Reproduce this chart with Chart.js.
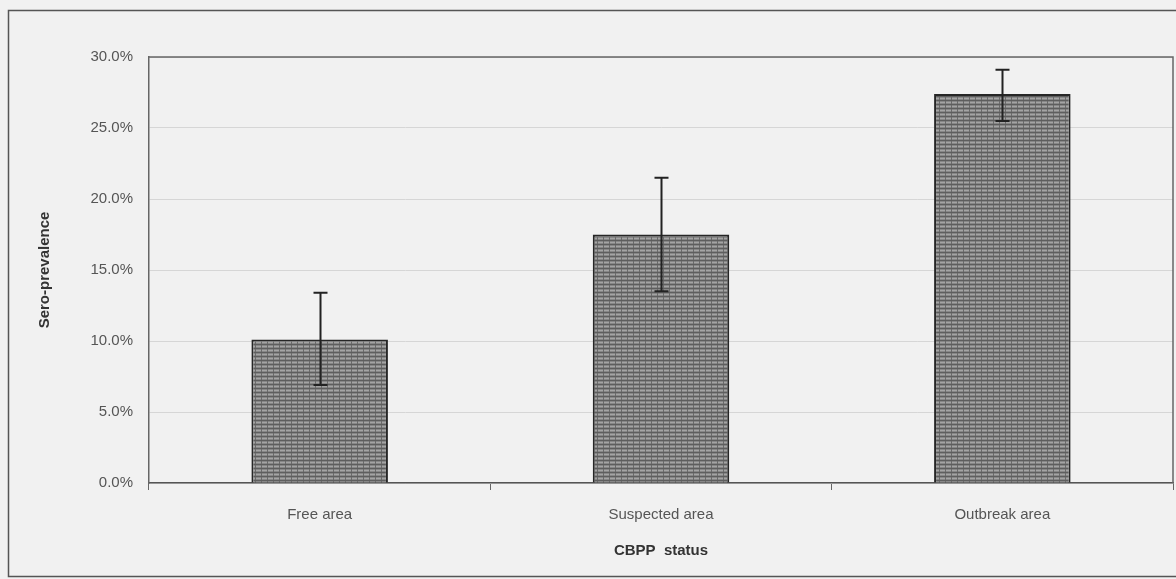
<!DOCTYPE html>
<html>
<head>
<meta charset="utf-8">
<script src="https://cdn.jsdelivr.net/npm/chart.js@4/dist/chart.umd.min.js"></script>
<style>
  html, body { margin: 0; padding: 0; background: #f1f1f1; }
  #wrap { width: 1176px; height: 579px; }
</style>
</head>
<body>
<div id="wrap"><canvas id="chart" width="1176" height="579"></canvas></div>
<script>
// --------------------- Chart data -----------------------------
const categories = ['Free area', 'Suspected area', 'Outbreak area'];
const prevalence = [10.1, 17.5, 27.4];   // bar heights, %
const ciLower = [6.9, 13.5, 25.5];       // error bar lower ends, %
const ciUpper = [13.4, 21.5, 29.1];      // error bar upper ends, %
const yTicks = [0, 5, 10, 15, 20, 25, 30];

const fontFamily = "'Liberation Sans', Arial, sans-serif";

// grey cross-hatched fill, like the scanned bars
function makePattern() {
  const c = document.createElement('canvas');
  c.width = 6;
  c.height = 4;
  const g = c.getContext('2d');
  g.fillStyle = '#878787';
  g.fillRect(0, 0, 6, 4);
  g.fillStyle = '#5e5e5e';
  g.fillRect(0, 0, 6, 1);
  g.fillStyle = '#a4a4a4';
  g.fillRect(0, 2, 6, 1);
  g.fillStyle = '#6a6a6a';
  g.fillRect(3, 1, 1, 3);
  return g.createPattern(c, 'repeat');
}

// ----------------------- Error bars + frames ----------------------
const errorBars = {
  id: 'errorBars',
  afterDatasetsDraw(chart) {
    const ctx = chart.ctx;
    const x = chart.scales.x;
    const y = chart.scales.y;
    ctx.save();
    ctx.strokeStyle = '#222';
    ctx.lineWidth = 2;
    for (let i = 0; i < categories.length; i++) {
      const px = Math.round(x.getPixelForValue(i)) + 0.5;
      const top = y.getPixelForValue(ciUpper[i]);
      const bot = y.getPixelForValue(ciLower[i]);
      ctx.beginPath();
      ctx.moveTo(px, top);
      ctx.lineTo(px, bot);
      ctx.moveTo(px - 7, top);
      ctx.lineTo(px + 7, top);
      ctx.moveTo(px - 7, bot);
      ctx.lineTo(px + 7, bot);
      ctx.stroke();
    }
    ctx.restore();
  },
  afterDraw(chart) {
    const ctx = chart.ctx;
    const a = chart.chartArea;
    ctx.save();
    // plot box top / right
    ctx.strokeStyle = '#666';
    ctx.lineWidth = 1.5;
    ctx.beginPath();
    ctx.moveTo(a.left, a.top);
    ctx.lineTo(a.right, a.top);
    ctx.lineTo(a.right, a.bottom);
    ctx.stroke();
    // outer frame
    ctx.strokeStyle = '#555';
    ctx.lineWidth = 1.5;
    ctx.strokeRect(8.5, 10.5, 1180, 566);
    ctx.restore();
  }
};

const ctx = document.getElementById('chart');
const myChart = new Chart(ctx, {
  type: 'bar',
  data: {
    labels: categories,
    datasets: [{
      label: 'Sero-prevalence',
      data: prevalence,
      backgroundColor: makePattern(),
      borderColor: '#262626',
      borderWidth: 2,
      categoryPercentage: 1,
      barPercentage: 0.4
    }]
  },
  options: {
    responsive: false,
    animation: false,
    layout: { padding: { left: 0, right: 3, top: 57, bottom: 0 } },
    plugins: {
      legend: { display: false },
      tooltip: { enabled: false }
    },
    scales: {
      x: {
        afterFit: s => { s.height = 96; },
        grid: { drawOnChartArea: false, drawTicks: true, tickLength: 7, color: '#666' },
        border: { color: '#555', width: 1.5 },
        ticks: {
          color: '#555',
          padding: 16,
          font: { family: fontFamily, size: 15 }
        },
        title: {
          display: true,
          text: 'CBPP  status',
          color: '#333',
          padding: { top: 0, bottom: 19 },
          font: { family: fontFamily, size: 15, weight: 'bold' }
        }
      },
      y: {
        min: 0,
        max: 30,
        afterFit: s => { s.width = 149; },
        afterBuildTicks: s => { s.ticks = yTicks.map(v => ({ value: v })); },
        grid: { color: '#d6d6d6', lineWidth: 1, drawTicks: false },
        border: { color: '#666', width: 1.5 },
        ticks: {
          color: '#555',
          padding: 16,
          font: { family: fontFamily, size: 15 },
          callback: v => v.toFixed(1) + '%'
        },
        title: {
          display: true,
          text: 'Sero-prevalence',
          color: '#333',
          padding: { top: 36, bottom: 0 },
          font: { family: fontFamily, size: 15, weight: 'bold' }
        }
      }
    }
  },
  plugins: [errorBars]
});
</script>
</body>
</html>
